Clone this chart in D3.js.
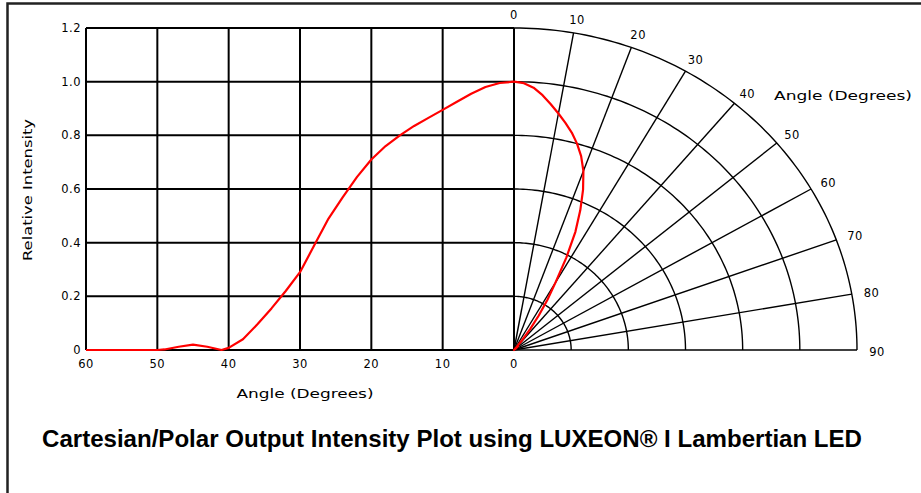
<!DOCTYPE html>
<html>
<head>
<meta charset="utf-8">
<script src="https://cdn.jsdelivr.net/npm/d3@7"></script>
<style>
  body { margin: 0; background: #fff; }
  svg { display: block; }
  .tick-lbl { font-family: "DejaVu Sans", sans-serif; font-size: 11.5px; letter-spacing: 0.5px; fill: #000; }
  .ax-title { font-family: "DejaVu Sans", sans-serif; font-size: 13px; fill: #000; }
</style>
</head>
<body>
<div id="container"></div>
<script>
// angle (degrees off axis) and relative intensity
var angles      = [0, 2, 4, 6, 8, 10, 12, 14, 16, 18, 20, 22, 24, 26, 28, 30, 32, 34, 36, 38, 40, 41, 43, 45, 47, 49, 50, 55, 60];
var intensities = [1.0, 0.995, 0.98, 0.955, 0.925, 0.895, 0.865, 0.835, 0.80, 0.76, 0.71, 0.645, 0.57, 0.49, 0.39, 0.29, 0.22, 0.155, 0.095, 0.04, 0.008, 0.0, 0.012, 0.02, 0.012, 0.002, 0.0, 0.0, 0.0];

var xTicks = [60, 50, 40, 30, 20, 10, 0];
var yTicks = [0, 0.2, 0.4, 0.6, 0.8, 1.0, 1.2];
var yTickLabels = ["0", "0.2", "0.4", "0.6", "0.8", "1.0", "1.2"];
var polarAngles = [0, 10, 20, 30, 40, 50, 60, 70, 80, 90];
var polarRings = [0.2, 0.4, 0.6, 0.8, 1.0, 1.2];

var titleText = "Cartesian/Polar Output Intensity Plot using LUXEON\u00AE I Lambertian LED";

var W = 921, H = 493;
var rad = Math.PI / 180;

var data = angles.map(function (a, i) { return { a: a, v: intensities[i] }; });

var x = d3.scaleLinear().domain([60, 0]).range([86, 514]);
var y = d3.scaleLinear().domain([0, 1.2]).range([350, 28]);
// horizontal radius of the polar part (it is slightly wider than tall)
var pr = d3.scaleLinear().domain([0, 1.2]).range([0, 343]);
var cx = x(0);

function polarPt(r, deg) {
    return [cx + pr(r * Math.sin(deg * rad)), y(r * Math.cos(deg * rad))];
}

var svg = d3.select("#container").append("svg")
    .attr("width", W).attr("height", H);

// frame
svg.append("rect")
    .attr("x", 7.5).attr("y", 3.5)
    .attr("width", 1000).attr("height", 1000)
    .attr("fill", "none").attr("stroke", "#222").attr("stroke-width", 2.5);

// polar rings
var ringLine = d3.line();
svg.selectAll("path.ring")
    .data(polarRings)
    .enter().append("path")
    .attr("class", "ring")
    .attr("d", function (r) { return ringLine(d3.range(0, 90.5, 1).map(function (t) { return polarPt(r, t); })); })
    .attr("fill", "none").attr("stroke", "#000").attr("stroke-width", 1.4);

// polar spokes
svg.selectAll("line.spoke")
    .data(polarAngles)
    .enter().append("line")
    .attr("class", "spoke")
    .attr("x1", cx).attr("y1", y(0))
    .attr("x2", function (t) { return polarPt(1.2, t)[0]; })
    .attr("y2", function (t) { return polarPt(1.2, t)[1]; })
    .attr("stroke", "#000").attr("stroke-width", 1.4);

// cartesian grid
svg.selectAll("line.vgrid")
    .data(xTicks)
    .enter().append("line")
    .attr("class", "vgrid")
    .attr("x1", function (d) { return x(d); }).attr("x2", function (d) { return x(d); })
    .attr("y1", y(0)).attr("y2", y(1.2))
    .attr("stroke", "#000").attr("stroke-width", 2);

svg.selectAll("line.hgrid")
    .data(yTicks)
    .enter().append("line")
    .attr("class", "hgrid")
    .attr("x1", x(60)).attr("x2", x(0))
    .attr("y1", function (d) { return y(d); }).attr("y2", function (d) { return y(d); })
    .attr("stroke", "#000").attr("stroke-width", 2);

// tick labels
svg.selectAll("text.xt")
    .data(xTicks)
    .enter().append("text")
    .attr("class", "tick-lbl")
    .attr("x", function (d) { return x(d); })
    .attr("y", 364)
    .attr("text-anchor", "middle")
    .attr("dominant-baseline", "central")
    .text(function (d) { return d; });

svg.selectAll("text.yt")
    .data(yTicks)
    .enter().append("text")
    .attr("class", "tick-lbl")
    .attr("x", 81)
    .attr("y", function (d) { return y(d); })
    .attr("text-anchor", "end")
    .attr("dominant-baseline", "central")
    .text(function (d, i) { return yTickLabels[i]; });

svg.selectAll("text.pt")
    .data(polarAngles)
    .enter().append("text")
    .attr("class", "tick-lbl")
    .attr("x", function (t) { return polarPt(1.27, t)[0]; })
    .attr("y", function (t) { return polarPt(1.255, t)[1] + 1.5; })
    .attr("text-anchor", "middle")
    .attr("dominant-baseline", "central")
    .text(function (t) { return t; });

// axis titles
svg.append("text")
    .attr("class", "ax-title")
    .attr("x", 305).attr("y", 393)
    .attr("text-anchor", "middle")
    .attr("dominant-baseline", "central")
    .attr("textLength", 137).attr("lengthAdjust", "spacingAndGlyphs")
    .text("Angle (Degrees)");

svg.append("text")
    .attr("class", "ax-title")
    .attr("x", 774).attr("y", 95)
    .attr("dominant-baseline", "central")
    .attr("textLength", 138).attr("lengthAdjust", "spacingAndGlyphs")
    .text("Angle (Degrees)");

svg.append("text")
    .attr("class", "ax-title")
    .attr("transform", "translate(27,190) rotate(-90)")
    .attr("text-anchor", "middle")
    .attr("dominant-baseline", "central")
    .attr("textLength", 142).attr("lengthAdjust", "spacingAndGlyphs")
    .text("Relative Intensity");

// intensity curve, cartesian
svg.append("path")
    .datum(data)
    .attr("fill", "none").attr("stroke", "#ff0000").attr("stroke-width", 2.2)
    .attr("stroke-linejoin", "round")
    .attr("d", d3.line()
        .x(function (d) { return x(d.a); })
        .y(function (d) { return y(d.v); }));

// same curve, polar
svg.append("path")
    .datum(data)
    .attr("fill", "none").attr("stroke", "#ff0000").attr("stroke-width", 2.2)
    .attr("stroke-linejoin", "round")
    .attr("d", d3.line()
        .x(function (d) { return polarPt(d.v, d.a)[0]; })
        .y(function (d) { return polarPt(d.v, d.a)[1]; }));

// title
svg.append("text")
    .attr("x", 452).attr("y", 447)
    .attr("text-anchor", "middle")
    .attr("textLength", 820).attr("lengthAdjust", "spacingAndGlyphs")
    .style("font-family", "'Liberation Sans Narrow', 'Liberation Sans', Arial, sans-serif")
    .style("font-weight", "bold")
    .style("font-size", "24px")
    .text(titleText);
</script>
</body>
</html>
